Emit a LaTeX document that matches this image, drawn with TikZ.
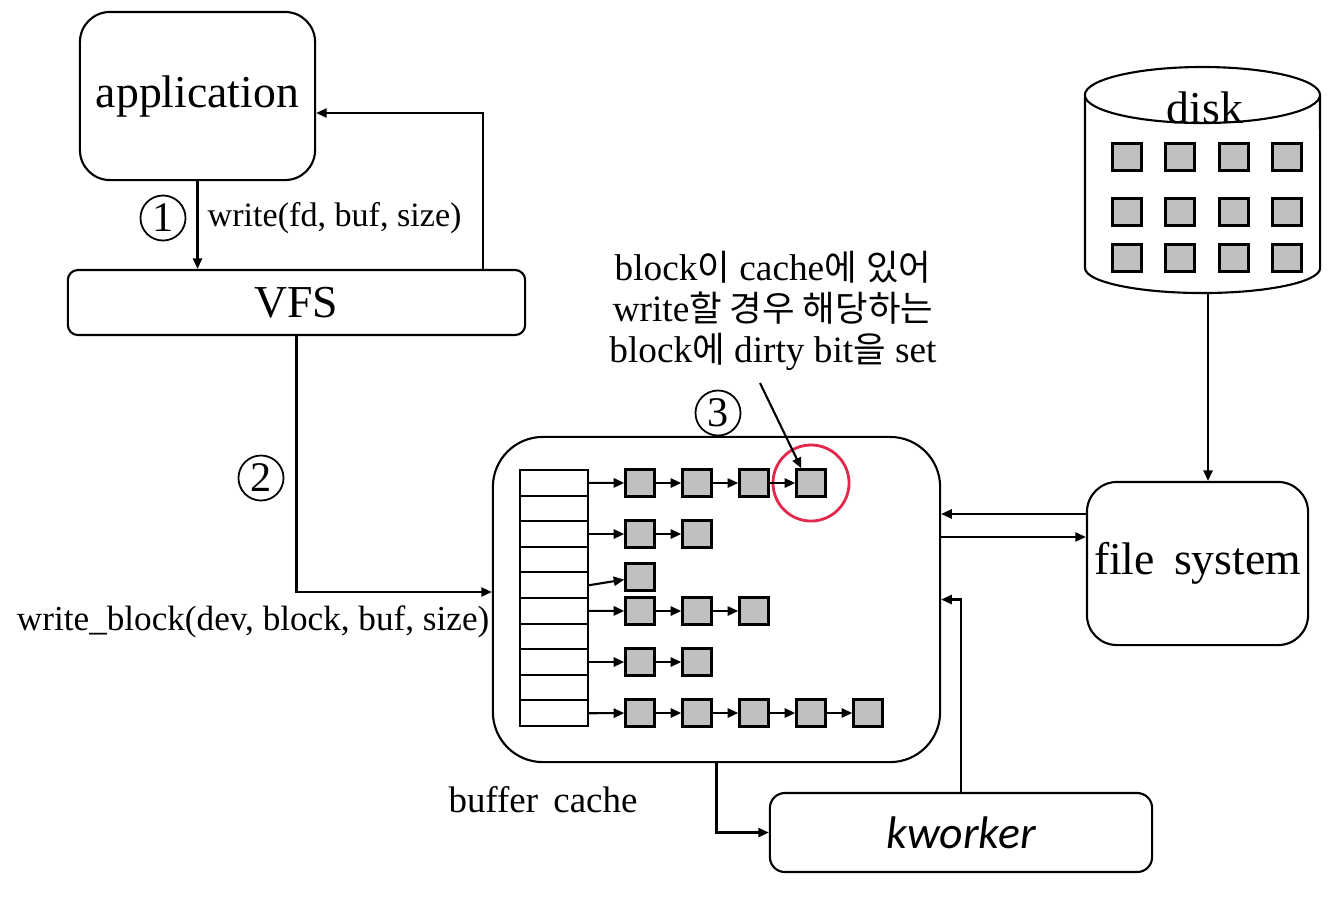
\documentclass[tikz,border=0pt]{standalone}
\usepackage{fontspec}
\setmainfont{Liberation Serif}
\newfontfamily\krfont[Scale=0.95]{Noto Sans CJK KR}
\newfontfamily\kwfont{Carlito}
\usetikzlibrary{arrows.meta}
\definecolor{blockgray}{RGB}{192,192,192}
\definecolor{hlred}{RGB}{228,40,76}
\newcommand\ko[1]{{\krfont #1}}
\begin{document}
\begin{tikzpicture}[x=0.01cm,y=-0.01cm,
    box/.style={draw,line width=0.6pt,rectangle,inner sep=0pt},
    blk/.style={draw,line width=0.7pt,fill=blockgray,minimum width=0.29cm,minimum height=0.27cm,inner sep=0pt},
    slot/.style={draw,line width=0.6pt,minimum width=0.68cm,minimum height=0.256cm,inner sep=0pt},
    num/.style={draw,circle,line width=0.5pt,minimum size=0.45cm,inner sep=0pt,font=\fontsize{12}{12}\selectfont},
    arr/.style={line width=0.6pt,-{Triangle[length=3pt,width=2.6pt]}},
    big/.style={font=\fontsize{13}{15}\selectfont},
    lbl/.style={font=\fontsize{9.7}{12}\selectfont,inner sep=0pt}]
  \useasboundingbox (0,0) rectangle (1328,896);
  \draw
    (197.5,96) node[box,big,rounded corners=0.3cm,minimum width=2.35cm,minimum height=1.68cm] (app){application}
    (296.5,302.5) node[box,big,rounded corners=0.1cm,minimum width=4.57cm,minimum height=0.65cm] (vfs){VFS}
    (716.5,599.5) node[box,rounded corners=0.5cm,minimum width=4.47cm,minimum height=3.25cm] (cache){}
    (1197.5,563.5) node[box,big,rounded corners=0.3cm,minimum width=2.21cm,minimum height=1.63cm] (fs){file\ \,system}
    (961,832.5) node[box,rounded corners=0.15cm,minimum width=3.82cm,minimum height=0.79cm,font=\kwfont\itshape\fontsize{13}{15}\selectfont] (kw){kworker};
  \draw
    (163,218) node[num] (n1){1}
    (261,478) node[num] (n2){2}
    (718,413) node[num] (n3){3};
  \draw
    (207,218) node[lbl,anchor=west] (wr){write(fd, buf, size)}
    (490,622) node[lbl,anchor=east,font=\fontsize{10}{12}\selectfont] (wb){write\_block(dev, block, buf, size)}
    (543,800) node[lbl,font=\fontsize{10.5}{12}\selectfont] (bc){buffer\ \,cache}
    (773,311) node[align=center,font=\fontsize{10.6}{11.7}\selectfont] (note){block\ko{이} cache\ko{에} \ko{있어}\\write\ko{할 경우 해당하는}\\block\ko{에} dirty bit\ko{을} set};
  \draw
    (554,482.8) node[slot] (s1){}
    (554,508.4) node[slot] (s2){}
    (554,534.0) node[slot] (s3){}
    (554,559.6) node[slot] (s4){}
    (554,585.2) node[slot] (s5){}
    (554,610.8) node[slot] (s6){}
    (554,636.4) node[slot] (s7){}
    (554,662.0) node[slot] (s8){}
    (554,687.6) node[slot] (s9){}
    (554,713.2) node[slot] (s10){};
  \draw
    (640,483) node[blk] (b11){}
    (697,483) node[blk] (b12){}
    (754,483) node[blk] (b13){}
    (811,483) node[blk] (b14){}
    (640,534) node[blk] (b31){}
    (697,534) node[blk] (b32){}
    (640,577) node[blk] (b51){}
    (640,611) node[blk] (b61){}
    (697,611) node[blk] (b62){}
    (754,611) node[blk] (b63){}
    (640,662) node[blk] (b81){}
    (697,662) node[blk] (b82){}
    (640,713) node[blk] (b101){}
    (697,713) node[blk] (b102){}
    (754,713) node[blk] (b103){}
    (811,713) node[blk] (b104){}
    (868,713) node[blk] (b105){};
  \node[circle,draw=hlred,line width=0.8pt,minimum size=0.76cm] (hl) at (b14) {};
  \draw[line width=0.6pt] (1085,95) -- (1085,268)
    arc[start angle=180,end angle=360,x radius=1.175cm,y radius=0.25cm] -- (1320,95)
    arc[start angle=0,end angle=180,x radius=1.175cm,y radius=0.28cm]
    arc[start angle=180,end angle=360,x radius=1.175cm,y radius=0.28cm];
  \coordinate (diskb) at (1208,293);
  \node[big] (disk) at (1205,108) {disk};
  \draw
    (1127,157) node[blk] (d1){}
    (1180,157) node[blk] (d2){}
    (1234,157) node[blk] (d3){}
    (1287,157) node[blk] (d4){}
    (1127,212) node[blk] (d5){}
    (1180,212) node[blk] (d6){}
    (1234,212) node[blk] (d7){}
    (1287,212) node[blk] (d8){}
    (1127,258) node[blk] (d9){}
    (1180,258) node[blk] (d10){}
    (1234,258) node[blk] (d11){}
    (1287,258) node[blk] (d12){};
  \coordinate (notept) at (760,383);
  \begin{scope}[arr]
    \draw (app.south) -- (app.south |- vfs.north);
    \draw ([xshift=1.865cm]vfs.north) |- ([yshift=-0.17cm]app.east);
    \draw (vfs.south) |- ([yshift=0.075cm]cache.west);
    \draw ([yshift=0.495cm]fs.west) -- ([yshift=0.495cm]fs.west -| cache.east);
    \draw ([yshift=0.625cm]cache.east) -- ([yshift=0.625cm]cache.east -| fs.west);
    \draw (cache.south) |- (kw.west);
    \draw (kw.north) |- (cache.east);
    \draw (diskb) -- (diskb |- fs.north);
    \draw (notept) -- ([xshift=0.06cm]b14.north west);
    \draw (s1.east) -- (b11);
    \draw (b11) -- (b12);
    \draw (b12) -- (b13);
    \draw (b13) -- (b14);
    \draw (s3.east) -- (b31);
    \draw (b31) -- (b32);
    \draw (s5.east) -- (b51);
    \draw (s6.east) -- (b61);
    \draw (b61) -- (b62);
    \draw (b62) -- (b63);
    \draw (s8.east) -- (b81);
    \draw (b81) -- (b82);
    \draw (s10.east) -- (b101);
    \draw (b101) -- (b102);
    \draw (b102) -- (b103);
    \draw (b103) -- (b104);
    \draw (b104) -- (b105);
  \end{scope}
\end{tikzpicture}
\end{document}
